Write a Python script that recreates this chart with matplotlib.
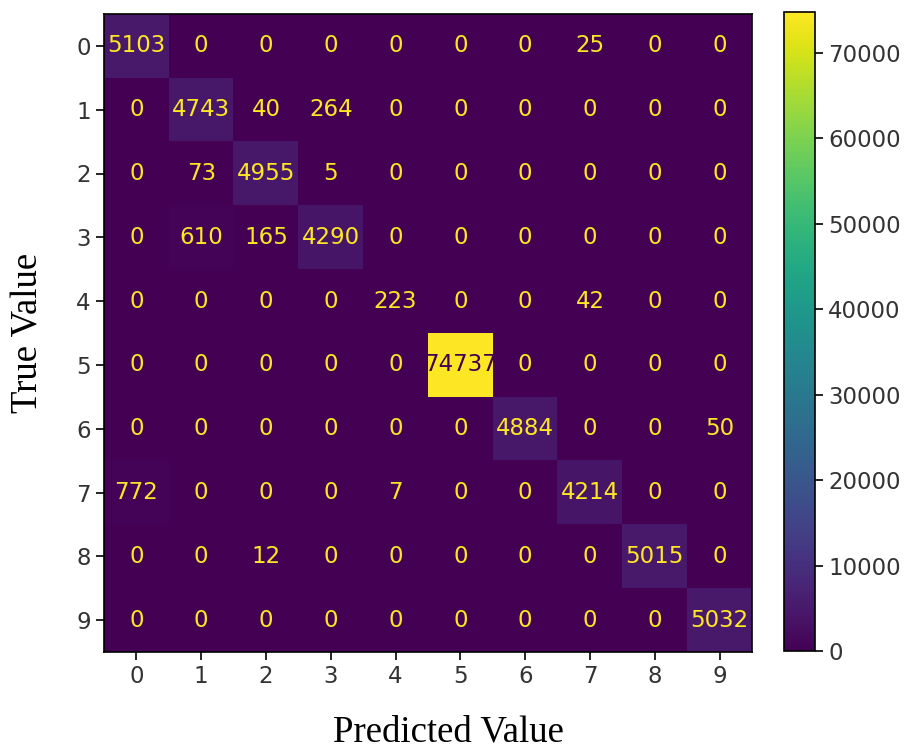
import numpy as np
import matplotlib
matplotlib.use("Agg")
import matplotlib.pyplot as plt

labels = ["0", "1", "2", "3", "4", "5", "6", "7", "8", "9"]
row0 = [5103, 0, 0, 0, 0, 0, 0, 25, 0, 0]
row1 = [0, 4743, 40, 264, 0, 0, 0, 0, 0, 0]
row2 = [0, 73, 4955, 5, 0, 0, 0, 0, 0, 0]
row3 = [0, 610, 165, 4290, 0, 0, 0, 0, 0, 0]
row4 = [0, 0, 0, 0, 223, 0, 0, 42, 0, 0]
row5 = [0, 0, 0, 0, 0, 74737, 0, 0, 0, 0]
row6 = [0, 0, 0, 0, 0, 0, 4884, 0, 0, 50]
row7 = [772, 0, 0, 0, 7, 0, 0, 4214, 0, 0]
row8 = [0, 0, 12, 0, 0, 0, 0, 0, 5015, 0]
row9 = [0, 0, 0, 0, 0, 0, 0, 0, 0, 5032]

cm = np.array([row0, row1, row2, row3, row4, row5, row6, row7, row8, row9])

fig = plt.figure(figsize=(9.09, 7.49), dpi=100)
ax = fig.add_axes([104 / 909, 1 - 652 / 749, 648 / 909, 638 / 749])
cax = fig.add_axes([784 / 909, 1 - 651 / 749, 31 / 909, 639 / 749])

cmap = plt.get_cmap("viridis")
im = ax.imshow(cm, cmap=cmap, interpolation="nearest", aspect="auto")
thresh = (cm.max() + cm.min()) / 2.0
for i in range(cm.shape[0]):
    for j in range(cm.shape[1]):
        color = cmap(0.0) if cm[i, j] > thresh else cmap(1.0)
        ax.text(j, i, str(cm[i, j]), ha="center", va="center",
                color=color, fontsize=16.5)

ax.set_xticks(range(len(labels)))
ax.set_xticklabels(labels, fontsize=16.5, color="#333333")
ax.set_yticks(range(len(labels)))
ax.set_yticklabels(labels, fontsize=16.5, color="#333333")
ax.tick_params(length=6, width=1.2)
for s in ax.spines.values():
    s.set_linewidth(1.2)

ax.set_xlabel("Predicted Value", family="Liberation Serif", fontsize=26.5, labelpad=19)
ax.xaxis.label.set_x(0.531)
ax.set_ylabel("True Value", family="Liberation Serif", fontsize=26.5, labelpad=22)

cb = fig.colorbar(im, cax=cax)
cb.set_ticks([0, 10000, 20000, 30000, 40000, 50000, 60000, 70000])
cb.ax.tick_params(labelsize=16.5, length=6, width=1.2, labelcolor="#333333")
cb.outline.set_linewidth(1.2)

fig.savefig("out.png", dpi=100)
